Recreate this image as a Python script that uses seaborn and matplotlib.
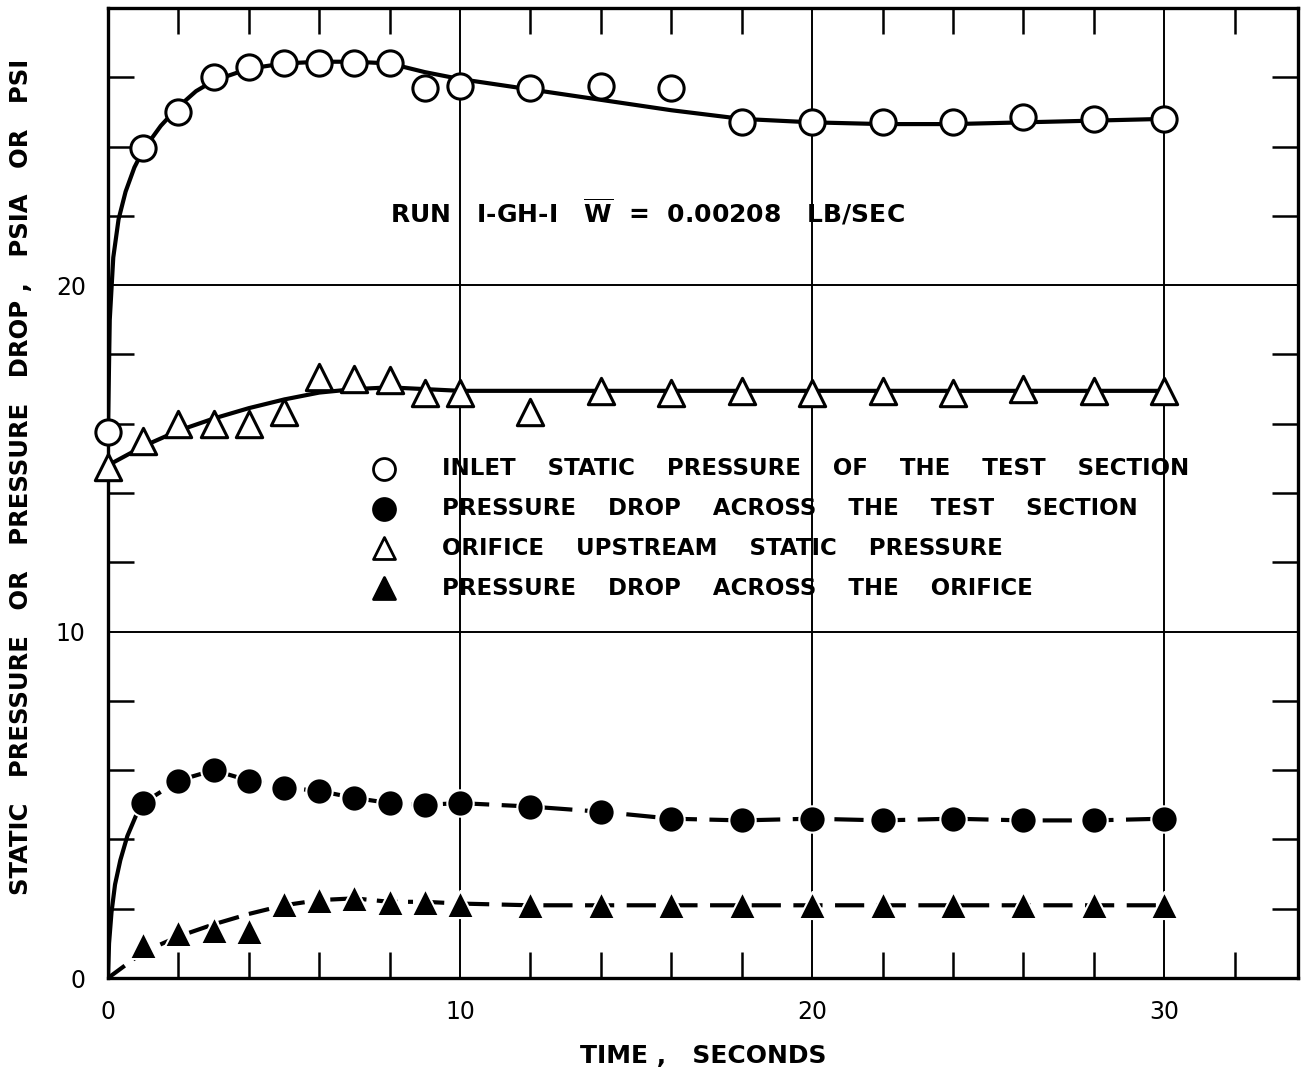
import matplotlib
matplotlib.use("Agg")
import matplotlib.pyplot as plt
import seaborn as sns
import numpy as np
import pandas as pd
from matplotlib.ticker import MultipleLocator, FixedLocator

# ---------------- data ----------------
time_pts = [0, 1, 2, 3, 4, 5, 6, 7, 8, 9, 10, 12, 14, 16, 18, 20, 22, 24, 26, 28, 30]
inlet_static = [15.76, 23.95, 25.0, 26.0, 26.3, 26.4, 26.4, 26.4, 26.4, 25.7, 25.75,
                25.7, 25.75, 25.7, 24.7, 24.7, 24.7, 24.7, 24.85, 24.8, 24.8]
orifice_static = [14.75, 15.5, 16.0, 16.0, 16.0, 16.35, 17.35, 17.3, 17.25, 16.9, 16.9,
                  16.35, 16.95, 16.9, 16.95, 16.9, 16.95, 16.9, 17.0, 16.95, 16.95]

time_dp = [1, 2, 3, 4, 5, 6, 7, 8, 9, 10, 12, 14, 16, 18, 20, 22, 24, 26, 28, 30]
dp_test = [5.05, 5.7, 6.0, 5.7, 5.5, 5.4, 5.2, 5.05, 5.0, 5.05, 4.95, 4.8, 4.6, 4.55,
           4.6, 4.55, 4.6, 4.55, 4.55, 4.6]
dp_orifice = [0.95, 1.3, 1.4, 1.35, 2.15, 2.25, 2.3, 2.2, 2.2, 2.15, 2.1, 2.1, 2.1, 2.1,
              2.1, 2.1, 2.1, 2.1, 2.1, 2.1]

# faired curves
fit_inlet_t = [0, 0.05, 0.15, 0.3, 0.5, 0.75, 1, 1.5, 2, 2.5, 3, 4, 5, 6, 7, 8, 9, 10, 12, 14, 16, 18, 20, 22, 24, 26, 28, 30]
fit_inlet_v = [15.8, 19.0, 20.8, 21.9, 22.7, 23.4, 23.9, 24.6, 25.15, 25.6, 25.9, 26.25, 26.4, 26.45,
               26.45, 26.4, 26.15, 25.95, 25.65, 25.35, 25.05, 24.8, 24.7, 24.65, 24.65, 24.7, 24.75, 24.8]
fit_orifice_t = [0, 1, 2, 3, 4, 5, 6, 7, 8, 9, 10, 12, 14, 16, 18, 20, 22, 24, 26, 28, 30]
fit_orifice_v = [14.8, 15.35, 15.8, 16.15, 16.45, 16.7, 16.9, 17.0, 17.05, 17.0, 16.95, 16.95,
                 16.95, 16.95, 16.95, 16.95, 16.95, 16.95, 16.95, 16.95, 16.95]
fit_dp_rise_t = [0, 0.03, 0.1, 0.2, 0.35, 0.55, 0.8, 1.0]
fit_dp_rise_v = [0.0, 1.0, 1.9, 2.7, 3.4, 4.1, 4.7, 5.05]
fit_dp_t = [1, 2, 3, 4, 5, 6, 7, 8, 9, 10, 12, 14, 16, 18, 20, 22, 24, 26, 28, 30]
fit_dp_v = [5.05, 5.7, 6.0, 5.7, 5.5, 5.4, 5.2, 5.05, 5.0, 5.05, 4.95, 4.8, 4.6, 4.55,
            4.6, 4.55, 4.6, 4.55, 4.55, 4.6]
fit_dpo_t = [0, 1, 2, 3, 4, 5, 6, 7, 8, 9, 10, 12, 14, 16, 18, 20, 22, 24, 26, 28, 30]
fit_dpo_v = [0.0, 0.75, 1.2, 1.55, 1.85, 2.1, 2.25, 2.3, 2.2, 2.2, 2.15, 2.1, 2.1, 2.1,
             2.1, 2.1, 2.1, 2.1, 2.1, 2.1, 2.1]

legend_labels = ["INLET    STATIC    PRESSURE    OF    THE    TEST    SECTION",
                 "PRESSURE    DROP    ACROSS    THE    TEST    SECTION",
                 "ORIFICE    UPSTREAM    STATIC    PRESSURE",
                 "PRESSURE    DROP    ACROSS    THE    ORIFICE"]
x_ticks = [0, 10, 20, 30]
y_ticks = [0, 10, 20]

# ---------------- style ----------------
sns.set_style("white")
plt.rcParams['font.family'] = ['DejaVu Sans']
plt.rcParams['text.color'] = 'black'
plt.rcParams['axes.labelcolor'] = 'black'
plt.rcParams['xtick.color'] = 'black'
plt.rcParams['ytick.color'] = 'black'
FS = 16.5

fig = plt.figure(figsize=(13.09, 10.71), dpi=100)
ax = fig.add_axes([0.0825, 0.0868, 0.9091, 0.9057])
ax.set_xlim(0, 33.8)
ax.set_ylim(0, 28)

# grid lines at major values
for gx in [10, 20, 30]:
    ax.axvline(gx, color='black', lw=1.4, zorder=1)
for gy in [10, 20]:
    ax.axhline(gy, color='black', lw=1.4, zorder=1)

LW = 3.0
sns.lineplot(x=fit_inlet_t, y=fit_inlet_v, ax=ax, color='black', lw=LW, sort=False, zorder=2)
sns.lineplot(x=fit_orifice_t, y=fit_orifice_v, ax=ax, color='black', lw=LW, sort=False, zorder=2)
sns.lineplot(x=fit_dp_rise_t, y=fit_dp_rise_v, ax=ax, color='black', lw=LW, sort=False, zorder=2)
sns.lineplot(x=fit_dp_t[:10], y=fit_dp_v[:10], ax=ax, color='black', lw=LW, sort=False, zorder=2)
ax.lines[-1].set_dashes([5, 2.5, 1.2, 2.5])
sns.lineplot(x=fit_dp_t[9:], y=fit_dp_v[9:], ax=ax, color='black', lw=LW, sort=False, zorder=2)
ax.lines[-1].set_dashes([7, 3])
sns.lineplot(x=fit_dpo_t[:6], y=fit_dpo_v[:6], ax=ax, color='black', lw=LW, sort=False, zorder=2)
ax.lines[-1].set_dashes([5, 2.5])
sns.lineplot(x=fit_dpo_t[5:11], y=fit_dpo_v[5:11], ax=ax, color='black', lw=LW, sort=False, zorder=2)
ax.lines[-1].set_dashes([5, 2.5, 1.2, 2.5])
sns.lineplot(x=fit_dpo_t[10:], y=fit_dpo_v[10:], ax=ax, color='black', lw=LW, sort=False, zorder=2)
ax.lines[-1].set_dashes([7, 3])

MEW = 2.2
sns.scatterplot(x=time_pts, y=inlet_static, ax=ax, marker='o', s=330, facecolor='white',
                edgecolor='black', linewidth=MEW, zorder=4, clip_on=False)
sns.scatterplot(x=time_pts, y=orifice_static, ax=ax, marker='^', s=360, facecolor='white',
                edgecolor='black', linewidth=MEW, zorder=4, clip_on=False)
sns.scatterplot(x=time_dp, y=dp_test, ax=ax, marker='o', s=360, facecolor='black',
                edgecolor='white', linewidth=1.5, zorder=4)
sns.scatterplot(x=time_dp, y=dp_orifice, ax=ax, marker='^', s=380, facecolor='black',
                edgecolor='white', linewidth=1.5, zorder=4)

# legend drawn as text block
leg_y = [14.7, 13.55, 12.4, 11.25]
leg_mk = [('o', 'white'), ('o', 'black'), ('^', 'white'), ('^', 'black')]
for yy, (mk, fc), lab in zip(leg_y, leg_mk, legend_labels):
    ax.scatter([7.85], [yy], marker=mk, s=250, facecolor=fc, edgecolor='black',
               linewidth=2.0, zorder=5)
    ax.text(9.5, yy, lab, fontsize=FS, fontweight='bold', va='center', ha='left')

ax.text(8.0, 22.1, r"RUN   I-GH-I   $\overline{\mathbf{W}}$  =  0.00208   LB/SEC",
        fontsize=18, fontweight='bold', va='center', ha='left')

# ticks
ax.xaxis.set_major_locator(FixedLocator(x_ticks))
ax.yaxis.set_major_locator(FixedLocator(y_ticks))
ax.xaxis.set_minor_locator(MultipleLocator(2))
ax.yaxis.set_minor_locator(MultipleLocator(2))
ax.tick_params(which='both', direction='in', top=True, right=True, bottom=True, left=True,
               width=1.8, color='black')
ax.tick_params(which='major', length=0, labelsize=17, pad=16)
ax.tick_params(which='minor', length=19)
ax.set_xticklabels([str(v) for v in x_ticks])
ax.set_yticklabels([str(v) for v in y_ticks])
for spine in ax.spines.values():
    spine.set_linewidth(2.4)
    spine.set_color('black')

ax.set_xlabel("TIME ,   SECONDS", fontsize=18, fontweight='bold', labelpad=14)
ax.set_ylabel("STATIC   PRESSURE   OR   PRESSURE   DROP ,   PSIA   OR   PSI", fontsize=17.5,
              fontweight='bold')
ax.yaxis.set_label_coords(-0.063, 0.5165)

fig.savefig("out.png", dpi=100)
